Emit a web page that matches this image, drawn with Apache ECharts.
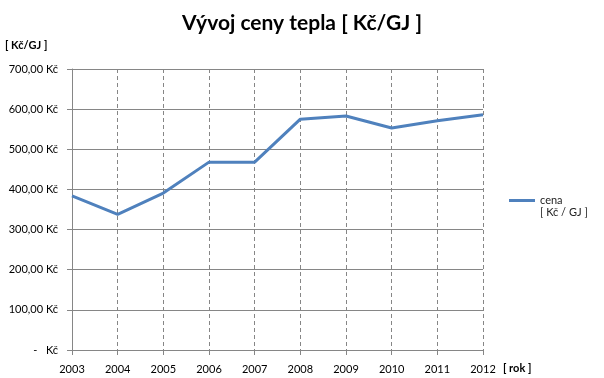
<!DOCTYPE html>
<html>
<head>
<meta charset="utf-8">
<script src="https://cdn.jsdelivr.net/npm/echarts@6/dist/echarts.min.js"></script>
<style>
  html, body { margin: 0; padding: 0; background: #fff; }
  #main { width: 604px; height: 378px; }
</style>
</head>
<body>
<div id="main"></div>
<script>
var years = ['2003', '2004', '2005', '2006', '2007', '2008', '2009', '2010', '2011', '2012'];
var cena = [384, 338, 391, 468, 468, 575, 583, 553, 571, 586];

var myChart = echarts.init(document.getElementById('main'));
var font = 'Lato, "Open Sans", sans-serif';
var option = {
  animation: false,
  textStyle: { fontFamily: font },
  title: {
    text: 'Vývoj ceny tepla [ Kč/GJ ]',
    left: 'center',
    top: 8,
    textStyle: { fontSize: 21, fontWeight: 'bold', color: '#000', fontFamily: font }
  },
  legend: {
    left: 509,
    top: 195,
    padding: 0,
    orient: 'vertical',
    itemWidth: 26,
    itemHeight: 3,
    icon: 'rect',
    textStyle: { fontSize: 11, color: '#222', fontFamily: font },
    data: ['cena']
  },
  graphic: [
    { type: 'text', left: 5, top: 40, style: { text: '[ Kč/GJ ]', font: 'bold 11px ' + font, fill: '#000' } },
    { type: 'text', left: 540, top: 207, style: { text: '[ Kč / GJ ]', font: '11px ' + font, fill: '#222' } },
    { type: 'text', left: 503, top: 363, style: { text: '[ rok ]', font: 'bold 11px ' + font, fill: '#000' } }
  ],
  grid: { left: 72, right: 121, top: 69, bottom: 28 },
  xAxis: {
    type: 'category',
    data: years,
    boundaryGap: false,
    axisLine: { lineStyle: { color: '#868686' } },
    axisTick: { show: true, length: 5, lineStyle: { color: '#868686' } },
    axisLabel: { color: '#000', fontSize: 11, margin: 14 },
    splitLine: { show: true, lineStyle: { color: '#868686', type: [4, 3] } }
  },
  yAxis: {
    type: 'value',
    min: 0,
    max: 700,
    interval: 100,
    axisLine: { show: true, lineStyle: { color: '#868686' } },
    axisTick: { show: true, length: 5, lineStyle: { color: '#868686' } },
    axisLabel: {
      color: '#000',
      fontSize: 11,
      margin: 14,
      formatter: function (v) {
        if (v === 0) return '-   Kč';
        return v.toFixed(2).replace('.', ',') + ' Kč';
      }
    },
    splitLine: { show: true, lineStyle: { color: '#868686' } }
  },
  series: [
    {
      name: 'cena',
      type: 'line',
      data: cena,
      symbol: 'none',
      lineStyle: { width: 3, color: '#4F81BD' },
      itemStyle: { color: '#4F81BD' }
    }
  ]
};
myChart.setOption(option);
</script>
</body>
</html>
